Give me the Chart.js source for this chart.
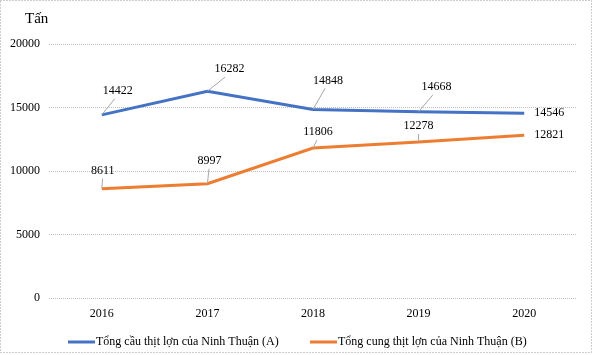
<!DOCTYPE html>
<html><head><meta charset="utf-8">
<script src="https://cdn.jsdelivr.net/npm/chart.js@4"></script>
<style>html,body{margin:0;padding:0;background:#fff}#wrap{width:593px;height:355px;position:relative}</style>
</head><body><div id="wrap"><canvas id="c" width="593" height="355"></canvas></div>
<script>
const categories = ['2016','2017','2018','2019','2020'];
const demandA = [14422, 16282, 14848, 14668, 14546];
const supplyB = [8611, 8997, 11806, 12278, 12821];
const seriesNames = ['Tổng cầu thịt lợn của Ninh Thuận (A)', 'Tổng cung thịt lợn của Ninh Thuận (B)'];
const yTicks = [0, 5000, 10000, 15000, 20000];
const unitLabel = 'Tấn';

const FONT = '"Liberation Serif","Times New Roman",serif';
// label offsets (pixel styling) per dataset/point
const labelOffsets = [
  [[16,-24],[22,-22],[15,-29],[18,-25],[25,0]],
  [[1,-18],[2,-23],[5,-16],[0,-16],[25,0]]
];
const leader = [
  [true,true,true,true,false],
  [true,true,true,true,false]
];

const plugin = {
  id: 'deco',
  afterDatasetsDraw(chart) {
    const ctx = chart.ctx;
    ctx.save();
    ctx.font = '12px ' + FONT;
    ctx.textAlign = 'center';
    ctx.textBaseline = 'middle';
    chart.data.datasets.forEach((ds, di) => {
      const meta = chart.getDatasetMeta(di);
      meta.data.forEach((pt, i) => {
        const [dx, dy] = labelOffsets[di][i];
        const lx = pt.x + dx, ly = pt.y + dy;
        if (leader[di][i]) {
          ctx.strokeStyle = '#a6a6a6';
          ctx.lineWidth = 1;
          ctx.beginPath();
          ctx.moveTo(pt.x, pt.y);
          ctx.lineTo(lx - dx*0.2, ly + 8);
          ctx.stroke();
        }
        ctx.fillStyle = '#000';
        ctx.fillText(String(ds.data[i]), lx, ly);
      });
    });
    ctx.restore();
  },
  afterDraw(chart) {
    const ctx = chart.ctx;
    ctx.save();
    // unit label
    ctx.fillStyle = '#000';
    ctx.font = '15px ' + FONT;
    ctx.textAlign = 'left';
    ctx.textBaseline = 'middle';
    ctx.fillText(unitLabel, 25, 19);
    // legend
    ctx.font = '12px ' + FONT;
    const xs = [68, 310];
    chart.data.datasets.forEach((ds, di) => {
      const x = xs[di], y = 342;
      ctx.strokeStyle = ds.borderColor;
      ctx.lineWidth = 3;
      ctx.beginPath();
      ctx.moveTo(x, y); ctx.lineTo(x + 27, y);
      ctx.stroke();
      ctx.fillStyle = '#000';
      ctx.textBaseline = 'middle';
      ctx.fillText(ds.label, x + 28, y);
    });
    // border
    ctx.strokeStyle = '#9a9a9a';
    ctx.lineWidth = 1;
    ctx.setLineDash([1, 2]);
    ctx.strokeRect(0.5, 0.5, 591, 352);
    ctx.restore();
  }
};

new Chart(document.getElementById('c'), {
  type: 'line',
  data: {
    labels: categories,
    datasets: [
      { label: seriesNames[0], data: demandA, borderColor: '#4472C4', backgroundColor: '#4472C4', borderWidth: 3, pointRadius: 0, tension: 0 },
      { label: seriesNames[1], data: supplyB, borderColor: '#ED7D31', backgroundColor: '#ED7D31', borderWidth: 3, pointRadius: 0, tension: 0 }
    ]
  },
  options: {
    responsive: false,
    animation: false,
    layout: { padding: { left: 0, right: 16, top: 44, bottom: 0 } },
    plugins: { legend: { display: false }, tooltip: { enabled: false } },
    scales: {
      x: {
        offset: true,
        grid: { display: false, drawTicks: false },
        border: { display: false },
        ticks: { padding: 9, color: '#000', font: { family: FONT, size: 12 } },
        afterFit(s) { s.height = 57; }
      },
      y: {
        min: 0, max: 20000,
        afterBuildTicks(s) { s.ticks = yTicks.map(v => ({ value: v })); },
        grid: { color: '#c0c0c0', drawTicks: false, lineWidth: 1 },
        border: { display: false, dash: [1, 1] },
        ticks: { padding: 9, color: '#000', font: { family: FONT, size: 12 }, callback: v => String(v) },
        afterFit(s) { s.width = 49; }
      }
    }
  },
  plugins: [plugin]
});
</script></body></html>
